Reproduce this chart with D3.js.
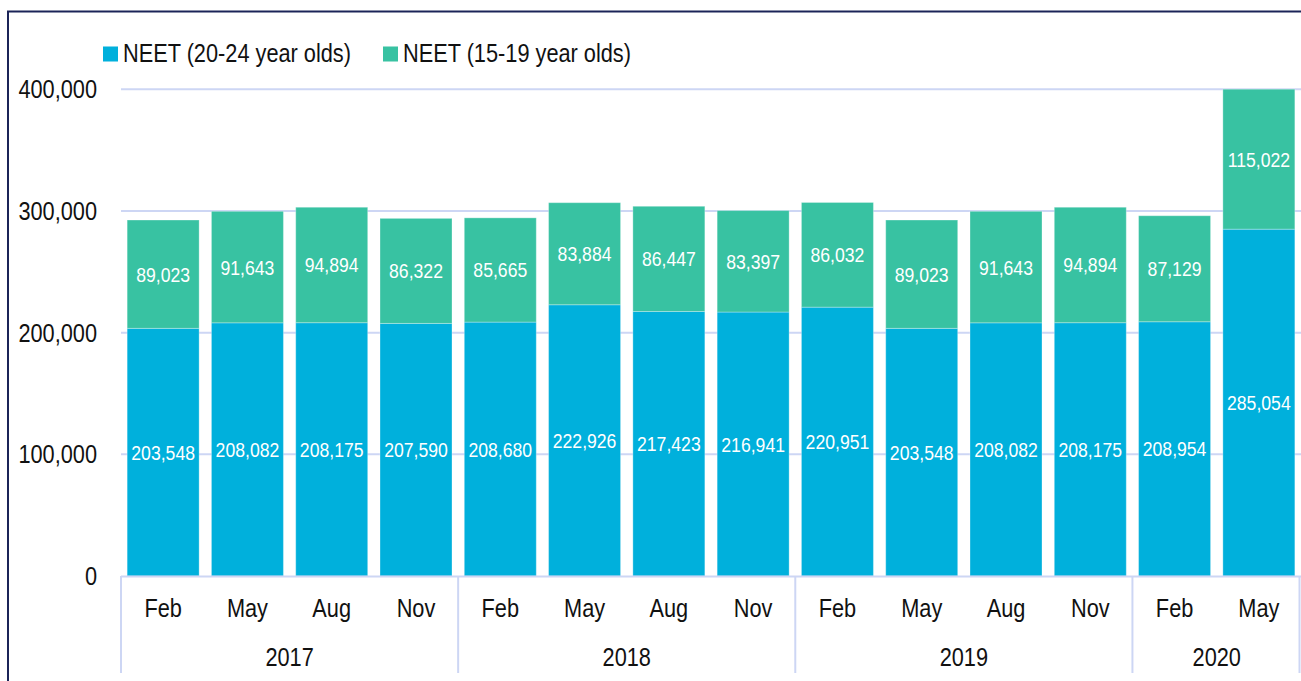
<!DOCTYPE html>
<html>
<head>
<meta charset="utf-8">
<script src="https://cdn.jsdelivr.net/npm/d3@7"></script>
<style>
  body { margin: 0; background: white; }
  text { font-family: "Liberation Sans", Arial, sans-serif; }
</style>
</head>
<body>
<svg id="chart" width="1301" height="681"></svg>
<script>
// data
var periods = ['2017-Feb','2017-May','2017-Aug','2017-Nov','2018-Feb','2018-May','2018-Aug','2018-Nov',
               '2019-Feb','2019-May','2019-Aug','2019-Nov','2020-Feb','2020-May']
var months = ['Feb','May','Aug','Nov','Feb','May','Aug','Nov','Feb','May','Aug','Nov','Feb','May']
var years = ['2017','2018','2019','2020']
var yearCounts = [4, 4, 4, 2]
var neet2024 = [203548,208082,208175,207590,208680,222926,217423,216941,220951,203548,208082,208175,208954,285054]
var neet1519 = [89023,91643,94894,86322,85665,83884,86447,83397,86032,89023,91643,94894,87129,115022]
var yTicks = [0, 100000, 200000, 300000, 400000]
var seriesNames = ['NEET (20-24 year olds)', 'NEET (15-19 year olds)']

var blue = '#00b0dc'
var green = '#38c2a2'
var gridColor = '#cdd6f4'
var sx = 0.87  // text is drawn narrow like the original

var svg = d3.select('#chart')

// frame (left and top edges visible)
svg.append('path')
    .attr('d', 'M8,681 L8,11.5 L1301,11.5')
    .style('fill', 'none')
    .style('stroke', '#1b2458')
    .style('stroke-width', 2)

var x = d3.scaleBand().domain(periods).range([121, 1301]).paddingInner(0.146).paddingOuter(0.073)
var y = d3.scaleLinear().domain([0, 400000]).range([576, 89.3])
var fmt = d3.format(',')

function narrowText(sel, px, py, txt, size, anchor, fill, scale) {
    return sel.append('text')
        .attr('transform', 'translate(' + px + ',' + py + ') scale(' + (scale || sx) + ',1)')
        .style('font-size', size + 'px')
        .style('text-anchor', anchor)
        .style('fill', fill || '#111')
        .text(txt)
}

// gridlines
svg.append('g').selectAll('line').data(yTicks.slice(1)).enter().append('line')
    .attr('x1', 121).attr('x2', 1301)
    .attr('y1', function(d) { return y(d) }).attr('y2', function(d) { return y(d) })
    .style('stroke', gridColor).style('stroke-width', 2)

// y labels
yTicks.forEach(function(t) {
    narrowText(svg, 97, y(t) + 9, fmt(t), 25, 'end')
})

// stacked bars
var stack = d3.stack().keys(['a', 'b'])
var rows = periods.map(function(p, i) { return {p: p, a: neet2024[i], b: neet1519[i]} })
var layers = stack(rows)
var colors = [blue, green]

layers.forEach(function(layer, k) {
    var g = svg.append('g')
    g.selectAll('rect').data(layer).enter().append('rect')
        .attr('x', function(d) { return x(d.data.p) })
        .attr('width', x.bandwidth())
        .attr('y', function(d) { return y(d[1]) })
        .attr('height', function(d) { return y(d[0]) - y(d[1]) })
        .style('fill', colors[k])
        .style('stroke', 'rgba(255,255,255,0.3)')
        .style('stroke-width', 1)
    layer.forEach(function(d) {
        var cx = x(d.data.p) + x.bandwidth() / 2
        var cy = (y(d[0]) + y(d[1])) / 2
        narrowText(g, cx, cy + 7.5, fmt(d[1] - d[0]), 21, 'middle', 'white', 0.84)
    })
})

// x axis baseline
svg.append('line')
    .attr('x1', 121).attr('x2', 1301).attr('y1', 576.5).attr('y2', 576.5)
    .style('stroke', gridColor).style('stroke-width', 2)

// month labels
months.forEach(function(m, i) {
    narrowText(svg, x(periods[i]) + x.bandwidth() / 2, 617, m, 25, 'middle')
})

// year groups and separators
var step = x.step()
var start = 0
var seps = [121]
years.forEach(function(yr, j) {
    var x0 = 121 + start * step
    var x1 = 121 + (start + yearCounts[j]) * step
    narrowText(svg, (x0 + x1) / 2, 666, yr, 25, 'middle')
    seps.push(Math.min(x1, 1299.5))
    start += yearCounts[j]
})
svg.append('g').selectAll('line').data(seps).enter().append('line')
    .attr('x1', function(d) { return d }).attr('x2', function(d) { return d })
    .attr('y1', 576).attr('y2', 673)
    .style('stroke', gridColor).style('stroke-width', 2)

// legend
var legendX = [103, 383]
seriesNames.forEach(function(name, i) {
    svg.append('rect')
        .attr('x', legendX[i]).attr('y', 46.5)
        .attr('width', 15).attr('height', 15)
        .style('fill', colors[i])
    narrowText(svg, legendX[i] + 20, 62, name, 25, 'start')
})
</script>
</body>
</html>
